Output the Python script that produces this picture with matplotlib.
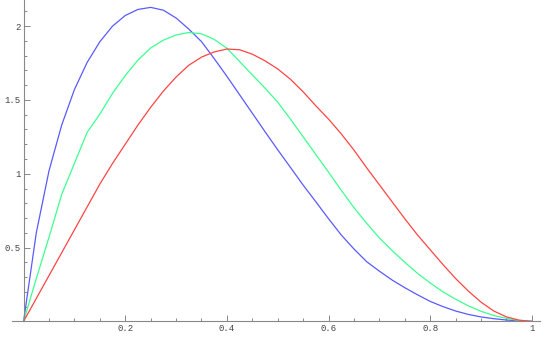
import numpy as np
import matplotlib
matplotlib.use("Agg")
import matplotlib.pyplot as plt
from matplotlib.ticker import FixedLocator

# sample points (x step 0.025)
x = np.linspace(0, 1, 41)

blue = [0, 0.60, 1.02, 1.33, 1.57, 1.754, 1.894, 2.00, 2.072, 2.113,
        2.127, 2.108, 2.055, 1.98, 1.895, 1.78, 1.66, 1.535, 1.41, 1.285,
        1.162, 1.043, 0.923, 0.81, 0.695, 0.585, 0.49, 0.404, 0.34, 0.28,
        0.228, 0.18, 0.135, 0.10, 0.07, 0.047, 0.03, 0.018, 0.009, 0.003, 0]

green = [0, 0.29, 0.57, 0.86, 1.07, 1.28, 1.404, 1.545, 1.665, 1.77,
         1.852, 1.905, 1.94, 1.957, 1.948, 1.91, 1.85, 1.76, 1.67, 1.58,
         1.485, 1.37, 1.25, 1.13, 1.01, 0.888, 0.77, 0.664, 0.565, 0.48,
         0.40, 0.325, 0.26, 0.20, 0.15, 0.105, 0.068, 0.04, 0.02, 0.006, 0]

red = [0, 0.155, 0.31, 0.465, 0.62, 0.775, 0.93, 1.07, 1.20, 1.33,
       1.45, 1.56, 1.655, 1.735, 1.79, 1.825, 1.845, 1.84, 1.81, 1.765,
       1.71, 1.64, 1.555, 1.46, 1.37, 1.27, 1.16, 1.04, 0.925, 0.81,
       0.695, 0.585, 0.485, 0.385, 0.29, 0.205, 0.13, 0.07, 0.03, 0.008, 0]

xticks = [0.2, 0.4, 0.6, 0.8, 1]
xtick_labels = ["0.2", "0.4", "0.6", "0.8", "1"]
yticks = [0.5, 1, 1.5, 2]
ytick_labels = ["0.5", "1", "1.5", "2"]

fig = plt.figure(figsize=(5.45, 3.37), dpi=100)
ax = fig.add_axes([0, 0, 1, 1])

ax.plot(x, blue, color="#5a5aff", lw=0.9)
ax.plot(x, green, color="#3cff90", lw=0.9)
ax.plot(x, red, color="#ff4444", lw=0.9)

ax.set_xlim(-0.0464, 1.0258)
ax.set_ylim(-0.106, 2.177)

axis_col = "#888888"
for side in ["top", "right"]:
    ax.spines[side].set_visible(False)
ax.spines["left"].set_position(("data", 0))
ax.spines["bottom"].set_position(("data", 0))
ax.spines["left"].set_bounds(0, 2.177)
ax.spines["bottom"].set_bounds(-0.023, 1.016)
for side in ["left", "bottom"]:
    ax.spines[side].set_color(axis_col)
    ax.spines[side].set_linewidth(0.8)

# minor ticks only inside the drawn axis lines
xminor = [i * 0.05 for i in range(1, 20) if i % 4 != 0]
yminor = [i * 0.1 for i in range(1, 22) if i % 5 != 0]

ax.xaxis.set_major_locator(FixedLocator(xticks))
ax.xaxis.set_minor_locator(FixedLocator(xminor))
ax.yaxis.set_major_locator(FixedLocator(yticks))
ax.yaxis.set_minor_locator(FixedLocator(yminor))
ax.set_xticklabels(xtick_labels)
ax.set_yticklabels(ytick_labels)

ax.tick_params(which="both", direction="in", color=axis_col, width=0.7,
               labelsize=6.5, labelcolor="#444444")
ax.tick_params(which="major", length=4, pad=2)
ax.tick_params(which="minor", length=2)
for lab in ax.get_xticklabels() + ax.get_yticklabels():
    lab.set_family("Liberation Mono")

plt.savefig("out.png", dpi=100)
plt.close()
